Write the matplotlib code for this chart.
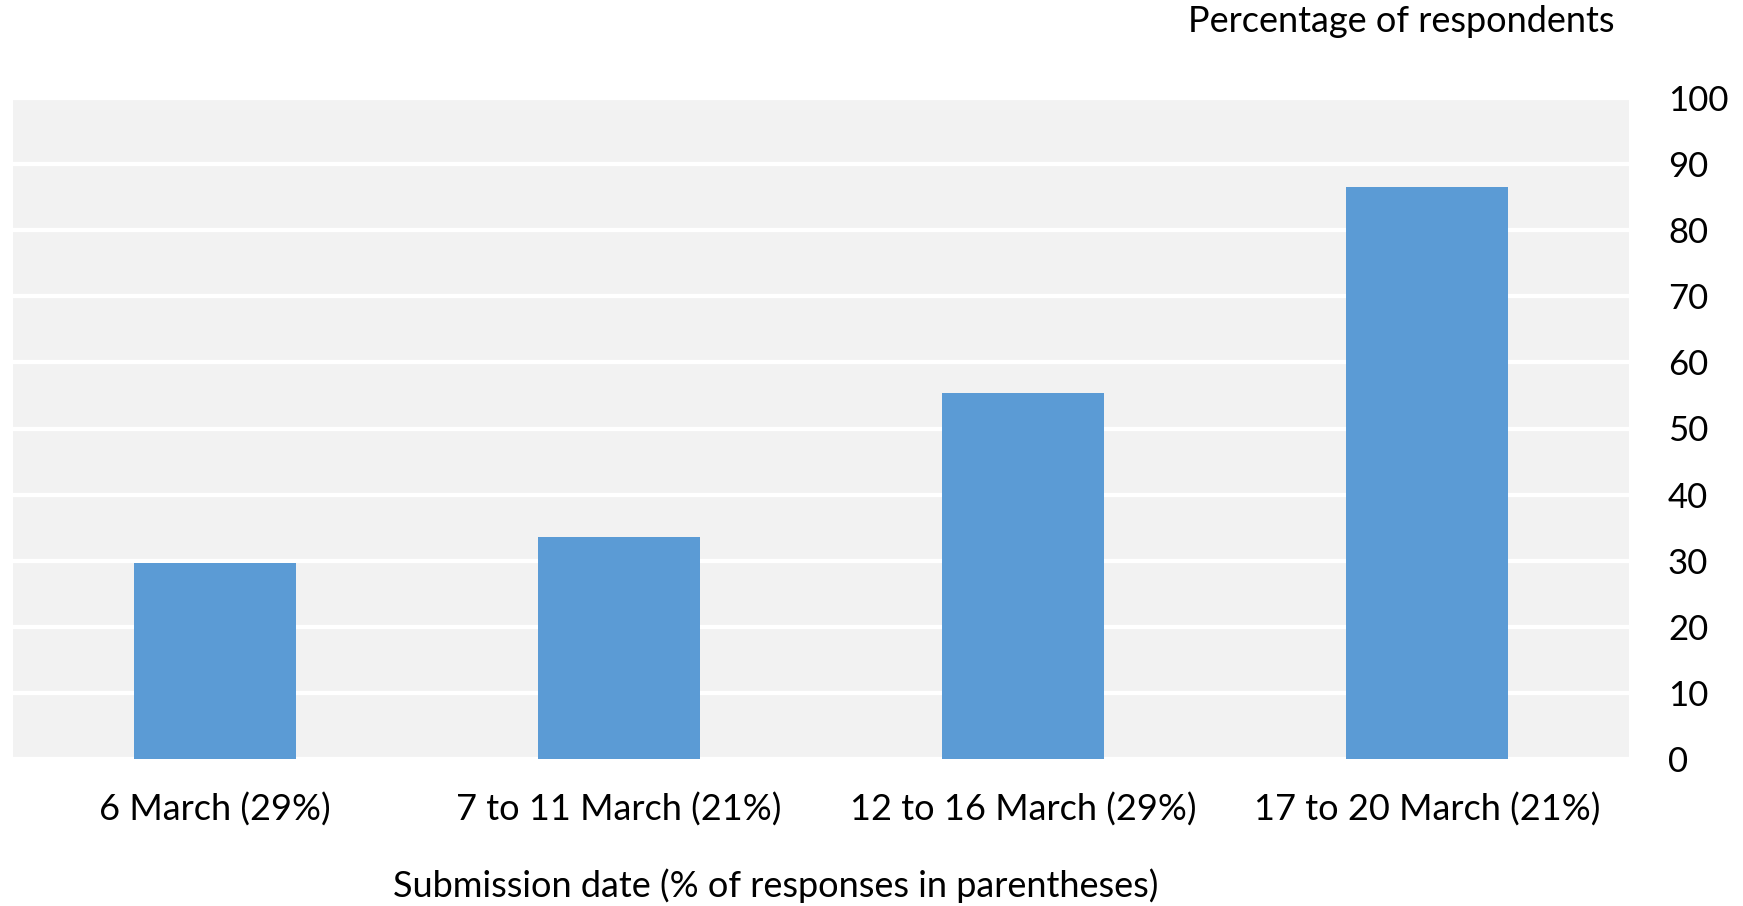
import numpy as np
import matplotlib.pyplot as plt

# DATA
categorias = ['6 March (29%)', '7 to 11 March (21%)', '12 to 16 March (29%)', '17 to 20 March (21%)']
percentuais = [29.7, 33.6, 55.3, 86.6]
ticks_y = [0, 10, 20, 30, 40, 50, 60, 70, 80, 90, 100]

plt.rcParams['font.family'] = ['Lato', 'DejaVu Sans']

fig = plt.figure(figsize=(17.43, 9.06), dpi=100)
ax = fig.add_axes([13 / 1743, 1 - 759 / 906, (1629 - 13) / 1743, (759 - 98) / 906])

x = np.arange(len(categorias))
ax.bar(x, percentuais, width=0.4, color='#5B9BD5', zorder=3)

ax.set_facecolor('#F2F2F2')
ax.set_xlim(-0.5, len(categorias) - 0.5)
ax.set_ylim(0, 100)

ax.set_yticks(ticks_y)
ax.yaxis.tick_right()
ax.tick_params(axis='y', length=0, pad=28, labelsize=25)
for lbl in ax.get_yticklabels():
    lbl.set_horizontalalignment('left')

ax.set_xticks(x)
ax.set_xticklabels(categorias)
ax.tick_params(axis='x', length=0, pad=24, labelsize=26)

ax.grid(True, axis='y', color='white', linewidth=3, zorder=1)
for s in ax.spines.values():
    s.set_visible(False)

fig.text(1615 / 1743, 1 - 22 / 906, 'Percentage of respondents',
         ha='right', va='center', fontsize=26)
fig.text(776 / 1743, 1 - 886 / 906, 'Submission date (% of responses in parentheses)',
         ha='center', va='center', fontsize=26)

plt.savefig('out.png', dpi=100)
